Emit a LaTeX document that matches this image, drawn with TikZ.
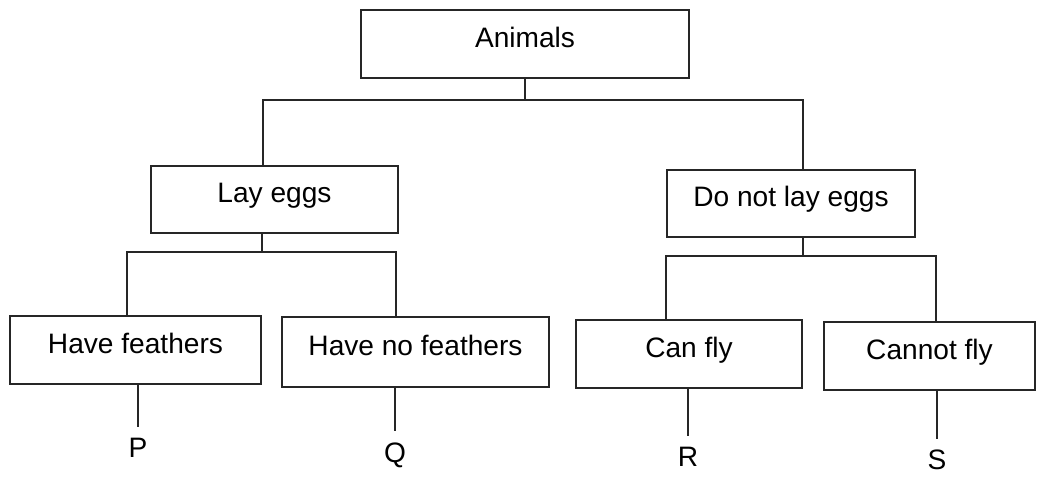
\documentclass[tikz,border=0pt]{standalone}
\usepackage{fontspec}
\setmainfont{Liberation Sans}
\usepackage{tikz}

\begin{document}
\begin{tikzpicture}[x=0.02cm,y=-0.02cm,
  every node/.style={font=\fontsize{16}{19}\selectfont},
  box/.style={draw=black!85, line width=0.8pt, inner sep=0pt,
    text height=0.42cm, text depth=0.30cm},
  leaf/.style={inner sep=0.22cm},
  wire/.style={draw=black!85, line width=0.8pt}]
\useasboundingbox (0,0) rectangle (1039,477);

% boxes
\node[box, minimum width=6.56cm, minimum height=1.36cm] (animals) at (525,44) {Animals};
\node[box, minimum width=4.94cm, minimum height=1.34cm] (layeggs) at (274.5,199.5) {Lay eggs};
\node[box, minimum width=4.96cm, minimum height=1.34cm] (dnle) at (791,203.5) {Do not lay eggs};
\node[box, minimum width=5.02cm, minimum height=1.36cm] (hf) at (135.5,350) {Have feathers};
\node[box, minimum width=5.34cm, minimum height=1.40cm] (hnf) at (415.5,352) {Have no feathers};
\node[box, minimum width=4.52cm, minimum height=1.36cm] (canfly) at (689,354) {Can fly};
\node[box, minimum width=4.22cm, minimum height=1.36cm] (cannot) at (929.5,356) {Cannot fly};

\node[leaf] (P) at (138,448) {P};
\node[leaf] (Q) at (395,455) {Q};
\node[leaf] (R) at (688,457) {R};
\node[leaf] (S) at (937,460) {S};

% first split
\coordinate (busA) at (526,100);
\coordinate (l1) at ([xshift=-0.23cm]layeggs.north);
\coordinate (d1) at ([xshift=0.24cm]dnle.north);
\draw[wire] (animals.south) -- (animals.south |- busA);
\draw[wire] (l1) |- (busA -| d1) -- (d1);

% lay eggs
\coordinate (busL) at (0,252);
\coordinate (l2) at ([xshift=-0.25cm]layeggs.south);
\coordinate (h1) at ([xshift=-0.17cm]hf.north);
\coordinate (n1) at ([xshift=-0.39cm]hnf.north);
\draw[wire] (l2) -- (l2 |- busL);
\draw[wire] (h1) |- (busL -| n1) -- (n1);

% do not lay eggs
\coordinate (busD) at (0,256);
\coordinate (d2) at ([xshift=0.24cm]dnle.south);
\coordinate (c1) at ([xshift=-0.46cm]canfly.north);
\coordinate (c2) at ([xshift=0.13cm]cannot.north);
\draw[wire] (d2) -- (d2 |- busD);
\draw[wire] (c1) |- (busD -| c2) -- (c2);

% leaves
\draw[wire] (P.north |- hf.south) -- (P.north);
\draw[wire] (Q.north |- hnf.south) -- (Q.north);
\draw[wire] (R.north |- canfly.south) -- (R.north);
\draw[wire] (S.north |- cannot.south) -- (S.north);
\end{tikzpicture}
\end{document}
